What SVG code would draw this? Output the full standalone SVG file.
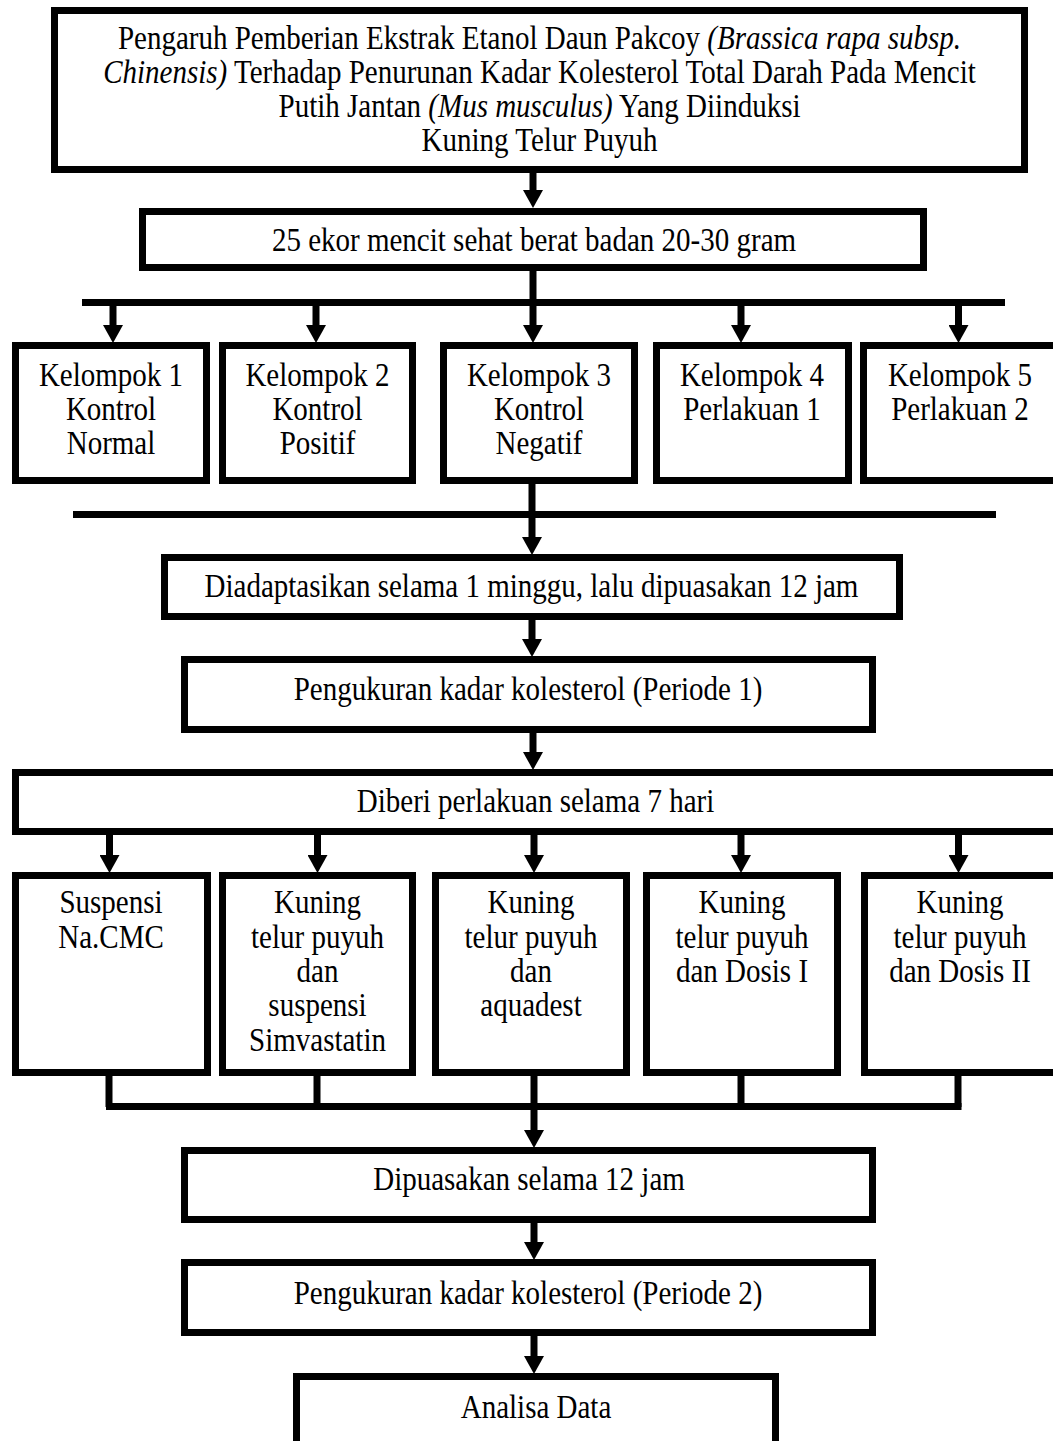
<svg xmlns="http://www.w3.org/2000/svg" width="1053" height="1441" viewBox="0 0 1053 1441">
<style>
.box{fill:#fff;stroke:#000;stroke-width:7}
.ln{fill:none;stroke:#000;stroke-width:7}
.t{font-family:"Liberation Serif","Times New Roman",serif;font-size:29px;fill:#000;text-anchor:middle}
.i{font-style:italic}
</style>
<defs>
<marker id="ah" markerUnits="userSpaceOnUse" viewBox="0 -10 18 20" refX="0" refY="0" markerWidth="18" markerHeight="20" orient="auto">
<path d="M0,-10 L18,0 L0,10 z" fill="#000"/>
</marker>
</defs>
<rect width="1053" height="1441" fill="#fff"/>
<g id="connectors">
<line class="ln" x1="533" y1="173" x2="533" y2="190" marker-end="url(#ah)"/>
<line class="ln" x1="533" y1="271" x2="533" y2="303"/>
<line class="ln" x1="82" y1="302.5" x2="1005" y2="302.5"/>
<line class="ln" x1="113" y1="302" x2="113" y2="325" marker-end="url(#ah)"/>
<line class="ln" x1="316" y1="302" x2="316" y2="325" marker-end="url(#ah)"/>
<line class="ln" x1="533" y1="302" x2="533" y2="325" marker-end="url(#ah)"/>
<line class="ln" x1="741" y1="302" x2="741" y2="325" marker-end="url(#ah)"/>
<line class="ln" x1="958.5" y1="302" x2="958.5" y2="325" marker-end="url(#ah)"/>
<line class="ln" x1="532" y1="484" x2="532" y2="537" marker-end="url(#ah)"/>
<line class="ln" x1="73" y1="514.5" x2="996" y2="514.5"/>
<line class="ln" x1="532" y1="620" x2="532" y2="639" marker-end="url(#ah)"/>
<line class="ln" x1="533" y1="733" x2="533" y2="752" marker-end="url(#ah)"/>
<line class="ln" x1="109.5" y1="835" x2="109.5" y2="855" marker-end="url(#ah)"/>
<line class="ln" x1="317.5" y1="835" x2="317.5" y2="855" marker-end="url(#ah)"/>
<line class="ln" x1="534" y1="835" x2="534" y2="855" marker-end="url(#ah)"/>
<line class="ln" x1="741" y1="835" x2="741" y2="855" marker-end="url(#ah)"/>
<line class="ln" x1="958.5" y1="835" x2="958.5" y2="855" marker-end="url(#ah)"/>
<line class="ln" x1="109" y1="1076" x2="109" y2="1107"/>
<line class="ln" x1="317" y1="1076" x2="317" y2="1107"/>
<line class="ln" x1="741" y1="1076" x2="741" y2="1107"/>
<line class="ln" x1="958" y1="1076" x2="958" y2="1107"/>
<line class="ln" x1="106" y1="1106.5" x2="961.5" y2="1106.5"/>
<line class="ln" x1="534" y1="1076" x2="534" y2="1130" marker-end="url(#ah)"/>
<line class="ln" x1="534" y1="1223" x2="534" y2="1242" marker-end="url(#ah)"/>
<line class="ln" x1="534" y1="1336" x2="534" y2="1356" marker-end="url(#ah)"/>
</g>
<g id="title">
<rect class="box" x="54.5" y="10.5" width="970" height="159"/>
<text class="t" transform="translate(539.5,49) scale(1,1.13)">Pengaruh Pemberian Ekstrak Etanol Daun Pakcoy <tspan class="i">(Brassica rapa subsp.</tspan></text>
<text class="t" transform="translate(539.5,83) scale(1,1.13)"><tspan class="i">Chinensis)</tspan> Terhadap Penurunan Kadar Kolesterol Total Darah Pada Mencit</text>
<text class="t" transform="translate(539.5,117) scale(1,1.13)">Putih Jantan <tspan class="i">(Mus musculus)</tspan> Yang Diinduksi</text>
<text class="t" transform="translate(539.5,151) scale(1,1.13)">Kuning Telur Puyuh</text>
</g>
<g id="mice">
<rect class="box" x="142.5" y="211.5" width="781" height="56"/>
<text class="t" transform="translate(534,251) scale(1,1.13)">25 ekor mencit sehat berat badan 20-30 gram</text>
</g>
<g id="group1">
<rect class="box" x="15.5" y="345.5" width="191" height="135"/>
<text class="t" transform="translate(111,386) scale(1,1.13)">Kelompok 1</text>
<text class="t" transform="translate(111,420) scale(1,1.13)">Kontrol</text>
<text class="t" transform="translate(111,454) scale(1,1.13)">Normal</text>
</g>
<g id="group2">
<rect class="box" x="222.5" y="345.5" width="190" height="135"/>
<text class="t" transform="translate(317.5,386) scale(1,1.13)">Kelompok 2</text>
<text class="t" transform="translate(317.5,420) scale(1,1.13)">Kontrol</text>
<text class="t" transform="translate(317.5,454) scale(1,1.13)">Positif</text>
</g>
<g id="group3">
<rect class="box" x="443.5" y="345.5" width="191" height="135"/>
<text class="t" transform="translate(539,386) scale(1,1.13)">Kelompok 3</text>
<text class="t" transform="translate(539,420) scale(1,1.13)">Kontrol</text>
<text class="t" transform="translate(539,454) scale(1,1.13)">Negatif</text>
</g>
<g id="group4">
<rect class="box" x="656.5" y="345.5" width="192" height="135"/>
<text class="t" transform="translate(752,386) scale(1,1.13)">Kelompok 4</text>
<text class="t" transform="translate(752,420) scale(1,1.13)">Perlakuan 1</text>
</g>
<g id="group5">
<rect class="box" x="863.5" y="345.5" width="193" height="135"/>
<text class="t" transform="translate(960,386) scale(1,1.13)">Kelompok 5</text>
<text class="t" transform="translate(960,420) scale(1,1.13)">Perlakuan 2</text>
</g>
<g id="adapt">
<rect class="box" x="164.5" y="557.5" width="735" height="59"/>
<text class="t" transform="translate(531.5,597) scale(1,1.13)">Diadaptasikan selama 1 minggu, lalu dipuasakan 12 jam</text>
</g>
<g id="measure1">
<rect class="box" x="184.5" y="659.5" width="688" height="70"/>
<text class="t" transform="translate(528,700) scale(1,1.13)">Pengukuran kadar kolesterol (Periode 1)</text>
</g>
<g id="treat">
<rect class="box" x="15.5" y="772.5" width="1041" height="59"/>
<text class="t" transform="translate(535.5,812) scale(1,1.13)">Diberi perlakuan selama 7 hari</text>
</g>
<g id="t1">
<rect class="box" x="15.5" y="875.5" width="192" height="197"/>
<text class="t" transform="translate(111,913) scale(1,1.13)">Suspensi</text>
<text class="t" transform="translate(111,948) scale(1,1.13)">Na.CMC</text>
</g>
<g id="t2">
<rect class="box" x="222.5" y="875.5" width="190" height="197"/>
<text class="t" transform="translate(317.5,913) scale(1,1.13)">Kuning</text>
<text class="t" transform="translate(317.5,948) scale(1,1.13)">telur puyuh</text>
<text class="t" transform="translate(317.5,982) scale(1,1.13)">dan</text>
<text class="t" transform="translate(317.5,1016) scale(1,1.13)">suspensi</text>
<text class="t" transform="translate(317.5,1051) scale(1,1.13)">Simvastatin</text>
</g>
<g id="t3">
<rect class="box" x="435.5" y="875.5" width="191" height="197"/>
<text class="t" transform="translate(531,913) scale(1,1.13)">Kuning</text>
<text class="t" transform="translate(531,948) scale(1,1.13)">telur puyuh</text>
<text class="t" transform="translate(531,982) scale(1,1.13)">dan</text>
<text class="t" transform="translate(531,1016) scale(1,1.13)">aquadest</text>
</g>
<g id="t4">
<rect class="box" x="646.5" y="875.5" width="191" height="197"/>
<text class="t" transform="translate(742,913) scale(1,1.13)">Kuning</text>
<text class="t" transform="translate(742,948) scale(1,1.13)">telur puyuh</text>
<text class="t" transform="translate(742,982) scale(1,1.13)">dan Dosis I</text>
</g>
<g id="t5">
<rect class="box" x="864.5" y="875.5" width="193" height="197"/>
<text class="t" transform="translate(960,913) scale(1,1.13)">Kuning</text>
<text class="t" transform="translate(960,948) scale(1,1.13)">telur puyuh</text>
<text class="t" transform="translate(960,982) scale(1,1.13)">dan Dosis II</text>
</g>
<g id="fast">
<rect class="box" x="184.5" y="1150.5" width="688" height="69"/>
<text class="t" transform="translate(529,1190) scale(1,1.13)">Dipuasakan selama 12 jam</text>
</g>
<g id="measure2">
<rect class="box" x="184.5" y="1262.5" width="688" height="70"/>
<text class="t" transform="translate(528,1304) scale(1,1.13)">Pengukuran kadar kolesterol (Periode 2)</text>
</g>
<g id="analysis">
<rect class="box" x="296.5" y="1376.5" width="479" height="90"/>
<text class="t" transform="translate(536,1418) scale(1,1.13)">Analisa Data</text>
</g>
</svg>
